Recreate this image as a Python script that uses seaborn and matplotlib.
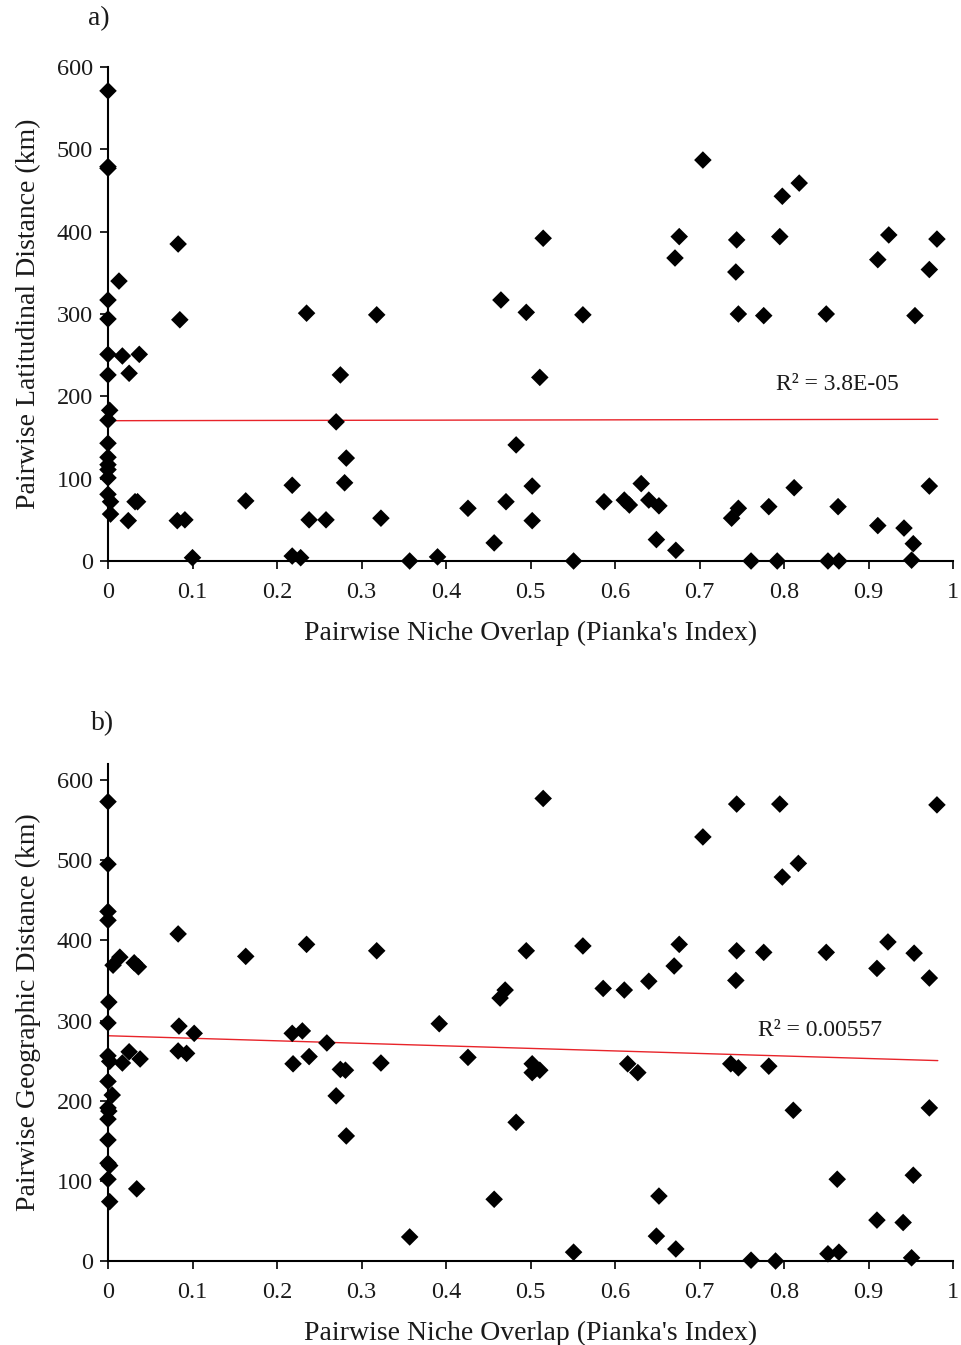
import matplotlib
matplotlib.use("Agg")
import matplotlib.pyplot as plt
import seaborn as sns
import pandas as pd
import numpy as np

# ---- Panel a data: niche overlap vs latitudinal distance ----
xa = [0, 0, 0, 0.083, 0.013, 0, 0, 0.085, 0, 0.017, 0.037, 0, 0.025,
      0.002, 0, 0, 0, 0, 0, 0, 0, 0.003, 0.003, 0.024, 0.032, 0.035,
      0.082, 0.091, 0.1, 0.163, 0.218, 0.218, 0.228, 0.235, 0.238, 0.258,
      0.27, 0.275, 0.282, 0.28, 0.318, 0.323, 0.357, 0.39, 0.426, 0.457,
      0.465, 0.471, 0.483, 0.495, 0.502, 0.502, 0.511, 0.515, 0.551, 0.562,
      0.587, 0.611, 0.617, 0.631, 0.64, 0.652, 0.649, 0.672, 0.671, 0.676,
      0.704, 0.738, 0.746, 0.743, 0.744, 0.746, 0.761, 0.776, 0.782, 0.792,
      0.795, 0.798, 0.812, 0.818, 0.85, 0.852, 0.865, 0.864, 0.911, 0.911,
      0.924, 0.942, 0.953, 0.951, 0.955, 0.972, 0.972, 0.981]
ya = [571, 479, 477, 385, 340, 317, 294, 293, 251, 249, 251, 226, 228,
      183, 171, 143, 126, 117, 111, 101, 81, 72, 57, 49, 72, 72,
      49, 50, 4, 73, 92, 6, 4, 301, 50, 50,
      169, 226, 125, 95, 299, 52, 0, 5, 64, 22,
      317, 72, 141, 302, 91, 49, 223, 392, 0, 299,
      72, 74, 68, 94, 74, 67, 26, 13, 368, 394,
      487, 52, 64, 351, 390, 300, 0, 298, 66, 0,
      394, 443, 89, 459, 300, 0, 0, 66, 366, 43,
      396, 40, 21, 1, 298, 354, 91, 391]
trend_a_x = [0, 0.982]
trend_a_y = [170.4, 172.1]
r2_a = "R² = 3.8E-05"

# ---- Panel b data: niche overlap vs geographic distance ----
xb = [0, 0, 0, 0, 0.083, 0.014, 0.006, 0.031, 0.036, 0.163, 0.235,
      0.001, 0, 0.084, 0.102, 0.218, 0.23, 0, 0.002, 0.025, 0.017, 0.038,
      0.083, 0.093, 0.219, 0.238, 0, 0.005, 0, 0.001, 0, 0, 0, 0.002, 0,
      0.034, 0.002, 0.318, 0.515, 0.495, 0.562, 0.586, 0.611, 0.47, 0.464,
      0.392, 0.259, 0.275, 0.281, 0.323, 0.426, 0.502, 0.511, 0.502, 0.615,
      0.627, 0.27, 0.282, 0.483, 0.457, 0.357, 0.551,
      0.744, 0.795, 0.981, 0.704, 0.798, 0.817, 0.676, 0.67, 0.64, 0.744,
      0.776, 0.743, 0.85, 0.923, 0.954, 0.91, 0.972, 0.737, 0.746, 0.782,
      0.811, 0.972, 0.652, 0.649, 0.672, 0.761, 0.79, 0.863, 0.953, 0.91,
      0.941, 0.852, 0.865, 0.951]
yb = [573, 495, 436, 425, 408, 379, 369, 372, 367, 380, 395,
      323, 297, 293, 284, 284, 287, 256, 249, 261, 247, 252,
      262, 259, 246, 255, 224, 207, 191, 187, 177, 151, 122, 119, 102,
      90, 74, 387, 577, 387, 393, 340, 338, 338, 328,
      296, 272, 239, 238, 247, 254, 246, 238, 235, 246,
      235, 206, 156, 173, 77, 30, 11,
      570, 570, 569, 529, 479, 496, 395, 368, 349, 387,
      385, 350, 385, 398, 384, 365, 353, 246, 241, 243,
      188, 191, 81, 31, 15, 1, 0, 102, 107, 51,
      48, 9, 11, 4]
trend_b_x = [0, 0.982]
trend_b_y = [281, 250]
r2_b = "R² = 0.00557"

x_ticks = [0, 0.1, 0.2, 0.3, 0.4, 0.5, 0.6, 0.7, 0.8, 0.9, 1]
x_tick_labels = ["0", "0.1", "0.2", "0.3", "0.4", "0.5", "0.6", "0.7", "0.8", "0.9", "1"]
y_ticks = [0, 100, 200, 300, 400, 500, 600]

xlabel = "Pairwise Niche Overlap (Pianka's Index)"
ylabel_a = "Pairwise Latitudinal Distance (km)"
ylabel_b = "Pairwise Geographic Distance (km)"

sns.set_style("white")
plt.rcParams['font.family'] = ['Liberation Serif', 'DejaVu Serif']

W, H = 961, 1345
fig = plt.figure(figsize=(W / 100, H / 100), dpi=100)

def px_axes(left, right, top, bottom):
    return fig.add_axes([left / W, 1 - bottom / H, (right - left) / W, (bottom - top) / H])

ax_a = px_axes(108, 953, 67, 561)
ax_b = px_axes(108, 953, 764, 1261)

TXT = "#1a1a1a"

def draw(ax, x, y, tx, ty, r2, r2pos, ylab, ytop, panel, ppos):
    df = pd.DataFrame({"x": x, "y": y})
    sns.lineplot(x=tx, y=ty, ax=ax, color="#e8242a", linewidth=1.0, zorder=1)
    sns.scatterplot(data=df, x="x", y="y", ax=ax, marker="D", color="black",
                    s=80, edgecolor="none", linewidth=0, zorder=3, clip_on=False)
    ax.set_xlim(0, 1)
    ax.set_ylim(0, ytop)
    ax.set_xticks(x_ticks)
    ax.set_xticklabels(x_tick_labels)
    ax.set_yticks(y_ticks)
    ax.tick_params(axis="both", direction="out", length=6, width=1.2,
                   labelsize=17.5, color="black", labelcolor=TXT, left=True, bottom=True)
    ax.tick_params(axis="x", pad=9)
    ax.tick_params(axis="y", pad=5)
    for s in ["top", "right"]:
        ax.spines[s].set_visible(False)
    for s in ["left", "bottom"]:
        ax.spines[s].set_color("black")
        ax.spines[s].set_linewidth(1.5)
    ax.set_xlabel(xlabel, fontsize=20, color=TXT, labelpad=13)
    ax.set_ylabel(ylab, fontsize=20, color=TXT, labelpad=11)
    ax.text(r2pos[0], r2pos[1], r2, fontsize=17, color=TXT, ha="center", va="center")
    fig.text(ppos[0] / W, 1 - ppos[1] / H, panel, fontsize=20, color=TXT, ha="center", va="center")

draw(ax_a, xa, ya, trend_a_x, trend_a_y, r2_a, (0.863, 214), ylabel_a, 600, "a)", (99, 19))
draw(ax_b, xb, yb, trend_b_x, trend_b_y, r2_b, (0.843, 287), ylabel_b, 620, "b)", (103, 724))

fig.savefig("out.png", dpi=100)
